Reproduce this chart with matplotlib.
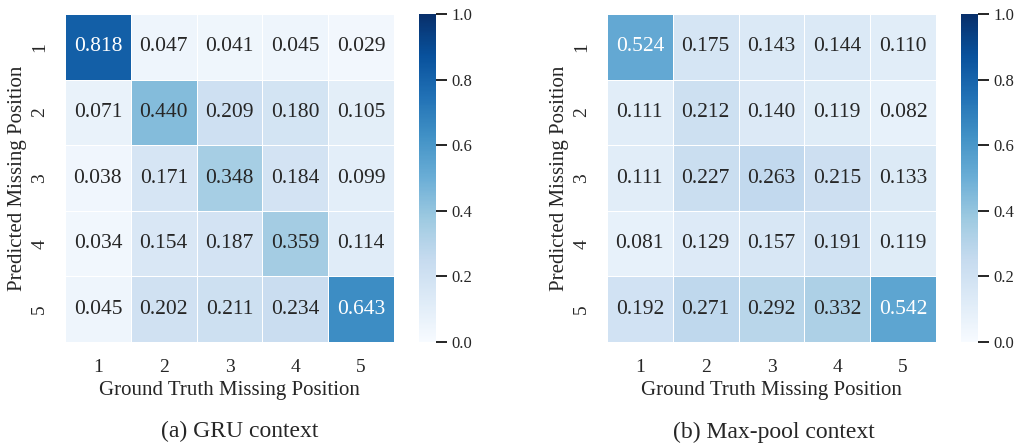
import matplotlib
import matplotlib.pyplot as plt
import numpy as np
import seaborn as sns

matplotlib.use('agg')

positions = [1, 2, 3, 4, 5]
gru_context = [
    [0.818, 0.047, 0.041, 0.045, 0.029],
    [0.071, 0.440, 0.209, 0.180, 0.105],
    [0.038, 0.171, 0.348, 0.184, 0.099],
    [0.034, 0.154, 0.187, 0.359, 0.114],
    [0.045, 0.202, 0.211, 0.234, 0.643],
]
maxpool_context = [
    [0.524, 0.175, 0.143, 0.144, 0.110],
    [0.111, 0.212, 0.140, 0.119, 0.082],
    [0.111, 0.227, 0.263, 0.215, 0.133],
    [0.081, 0.129, 0.157, 0.191, 0.119],
    [0.192, 0.271, 0.292, 0.332, 0.542],
]
captions = ["(a) GRU context", "(b) Max-pool context"]

sns.set_style("white")
plt.rcParams['font.family'] = ['Liberation Serif', 'DejaVu Serif']

fig = plt.figure(figsize=(10.16, 4.43), dpi=100)

# heatmap left, colorbar left, caption centre (figure fractions)
panels = [
    (gru_context, 0.064, 0.4124, 0.236),
    (maxpool_context, 0.5974, 0.9459, 0.762),
]
for (data, hx, cx, tx), caption in zip(panels, captions):
    ax = fig.add_axes([hx, 0.228, 0.3238, 0.740])
    cax = fig.add_axes([cx, 0.228, 0.0167, 0.740])
    sns.heatmap(np.array(data), ax=ax, cbar_ax=cax, cmap='Blues', vmin=0, vmax=1,
                annot=True, fmt='.3f', annot_kws={'fontsize': 15.5},
                linewidths=0.6, linecolor='white',
                xticklabels=positions, yticklabels=positions)
    ax.tick_params(axis='both', length=0, labelsize=14, pad=12)
    ax.set_yticklabels(positions, rotation=90, va='center')
    ax.set_xlabel("Ground Truth Missing Position", fontsize=15, labelpad=4)
    ax.set_ylabel("Predicted Missing Position", fontsize=15, labelpad=3)
    cax.tick_params(length=8, width=1.2, color='black', labelsize=12, pad=3)
    cax.set_yticks([0.0, 0.2, 0.4, 0.6, 0.8, 1.0])
    for s in cax.spines.values():
        s.set_visible(False)
    fig.text(tx, 0.025, caption, ha='center', va='center', fontsize=17)

fig.savefig('out.png', dpi=100)
plt.close()
